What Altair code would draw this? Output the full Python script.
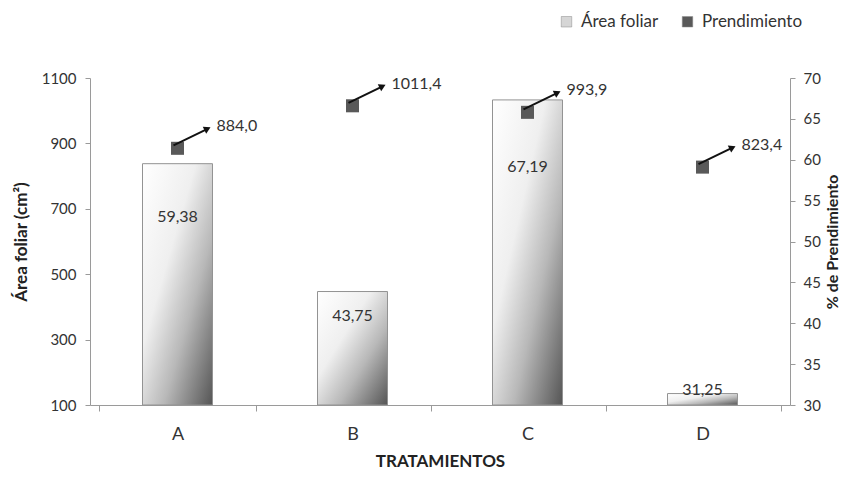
import altair as alt
import pandas as pd

tratamientos = ["A", "B", "C", "D"]
area_foliar = [838, 447, 1033, 135]
prendimiento = [61.4, 66.6, 65.8, 59.1]
etiquetas_barra = ["59,38", "43,75", "67,19", "31,25"]
etiquetas_punto = ["884,0", "1011,4", "993,9", "823,4"]

df = pd.DataFrame({
    "trat": tratamientos,
    "area": area_foliar,
    "pct": prendimiento,
    "lab_bar": etiquetas_barra,
    "lab_pt": etiquetas_punto,
    "serie": ["Prendimiento"] * 4,
})

FONT = "Lato"
TXT = "#333333"

x_enc = alt.X(
    "trat:N",
    title="TRATAMIENTOS",
    sort=tratamientos,
    axis=alt.Axis(labelAngle=0, tickBand="extent", labelFontSize=18, labelPadding=14,
                  titleFontSize=17, titleFontWeight="bold", titlePadding=10,
                  tickSize=6, labelColor=TXT, titleColor="#222"),
)

y_area = alt.Y(
    "area:Q",
    scale=alt.Scale(domain=[100, 1100], zero=False, nice=False),
    axis=alt.Axis(values=[100, 300, 500, 700, 900, 1100], format="d", title="Área foliar (cm²)",
                  labelFontSize=15, titleFontSize=17, titleFontWeight="bold",
                  labelPadding=9, titlePadding=11, tickSize=5, labelColor=TXT, titleColor="#222"),
)

gradient = alt.Gradient(
    gradient="linear",
    stops=[
        alt.GradientStop(color="#ffffff", offset=0),
        alt.GradientStop(color="#efefef", offset=0.38),
        alt.GradientStop(color="#b8b8b8", offset=0.65),
        alt.GradientStop(color="#555555", offset=1),
    ],
    x1=0, y1=0, x2=1, y2=1,
)

base = alt.Chart(df)

bars = base.mark_bar(size=70, fill=gradient, stroke="#939393", strokeWidth=1).encode(
    x=x_enc, y=y_area, y2=alt.datum(100)
)

bar_labels = base.transform_calculate(
    ly="datum.area < 300 ? datum.area + 12 : 100 + 0.78 * (datum.area - 100)"
).mark_text(font=FONT, fontSize=16, color=TXT).encode(
    x=alt.X("trat:N", sort=tratamientos),
    y=alt.Y("ly:Q", scale=alt.Scale(domain=[100, 1100], zero=False, nice=False)),
    text="lab_bar:N",
)

left = alt.layer(bars, bar_labels)

pct_scale = alt.Scale(domain=[30, 70], zero=False, nice=False)
y_pct = alt.Y(
    "pct:Q",
    scale=pct_scale,
    axis=alt.Axis(orient="right", values=list(range(30, 71, 5)), title="% de Prendimiento",
                  labelFontSize=15, titleFontSize=16, titleFontWeight="bold", titleAngle=270,
                  titleBaseline="top",
                  labelPadding=8, titlePadding=4, tickSize=5, labelColor=TXT, titleColor="#222"),
)

squares = base.mark_square(size=170, opacity=1).encode(
    x=alt.X("trat:N", sort=tratamientos),
    y=y_pct,
    color=alt.Color(
        "serie:N",
        scale=alt.Scale(domain=["Área foliar", "Prendimiento"], range=["#d6d6d6", "#595959"]),
        legend=alt.Legend(orient="none", legendX=468, legendY=-65, direction="horizontal",
                          title=None, symbolType="square", symbolSize=110,
                          symbolStrokeColor="#888", symbolStrokeWidth=0.5,
                          labelFontSize=17, labelFont=FONT, labelColor=TXT,
                          columnPadding=20, symbolOffset=0, labelOffset=6),
    ),
)

arrows = base.mark_rule(color="#111", strokeWidth=2, xOffset=-4, yOffset=-3,
                        x2Offset=29, y2Offset=-19).encode(
    x=alt.X("trat:N", sort=tratamientos),
    x2=alt.X2("trat:N", bandPosition=0.5),
    y=alt.Y("pct:Q", scale=pct_scale),
    y2="pct:Q",
)

heads = base.mark_point(shape="triangle", filled=True, color="#111", opacity=1, size=60,
                        angle=64, xOffset=29, yOffset=-19).encode(
    x=alt.X("trat:N", sort=tratamientos),
    y=alt.Y("pct:Q", scale=pct_scale),
)

pt_labels = base.mark_text(font=FONT, fontSize=16, color=TXT, align="left",
                           dx=39, dy=-22).encode(
    x=alt.X("trat:N", sort=tratamientos),
    y=alt.Y("pct:Q", scale=pct_scale),
    text="lab_pt:N",
)

right = alt.layer(squares, arrows, heads, pt_labels)

chart = alt.layer(left, right).resolve_scale(y="independent").properties(
    width=700, height=327,
    autosize=alt.AutoSizeParams(type="none"),
    padding={"left": 82, "top": 70, "right": 52, "bottom": 65},
).configure_view(stroke=None).configure_axis(
    domainColor="#9a9a9a", tickColor="#9a9a9a", grid=False,
    labelFont=FONT, titleFont=FONT,
).configure_text(font=FONT)

chart.save("out.html", embed_options={"renderer": "svg", "actions": False})
